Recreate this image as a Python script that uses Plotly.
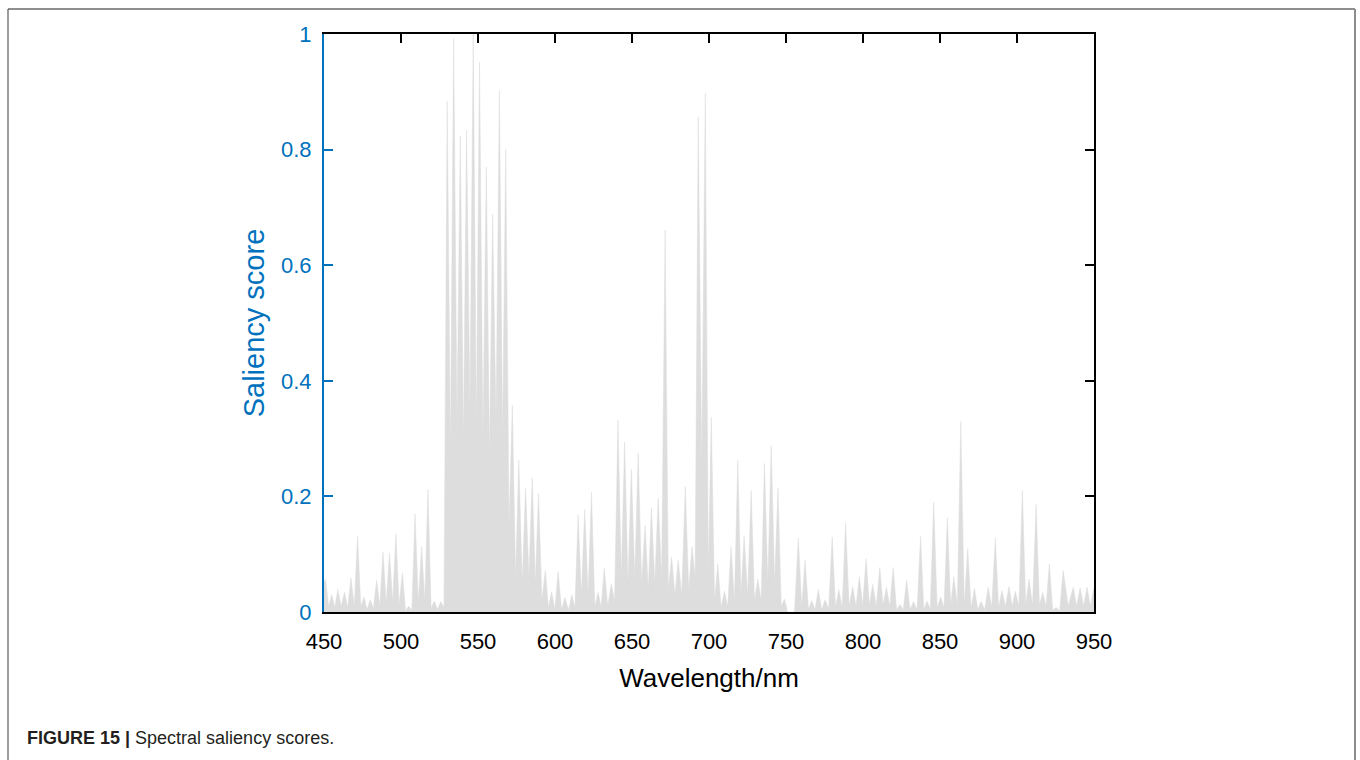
import plotly.graph_objects as go

# Peak wavelength (nm), peak saliency and the valley level that follows each peak
peak_nm = [
    451.0, 455.0, 459.0, 463.3, 467.5, 471.8, 476.0, 480.0, 484.2, 488.3,
    492.5, 496.7, 500.9, 505.0, 509.1, 513.4, 517.5, 521.6, 525.8, 530.0,
    534.2, 538.5, 542.6, 546.9, 551.0, 555.4, 559.5, 563.9, 568.0, 572.3,
    576.5, 580.9, 585.2, 589.3, 593.7, 597.8, 602.0, 606.5, 610.9, 615.0,
    619.3, 623.7, 628.0, 632.0, 636.5, 640.9, 645.2, 649.6, 654.0, 658.5,
    662.6, 667.0, 671.5, 675.7, 680.0, 684.6, 689.0, 693.0, 697.6, 701.5,
    705.7, 710.0, 714.3, 718.7, 722.8, 727.4, 731.7, 736.0, 740.4, 744.8,
    749.0, 753.0, 758.0, 762.4, 766.7, 771.0, 775.4, 780.0, 784.3, 788.7,
    793.3, 797.6, 802.0, 806.3, 810.9, 815.2, 819.6, 824.0, 828.3, 832.8,
    837.4, 841.5, 845.9, 850.4, 854.8, 859.0, 863.5, 868.0, 872.4, 876.7,
    881.3, 885.9, 890.2, 894.8, 898.9, 903.5, 907.8, 912.4, 916.7, 921.0,
    925.4, 930.0, 936.5, 941.0, 945.5, 949.8,
]
peak_score = [
    0.057, 0.030, 0.039, 0.034, 0.059, 0.131, 0.026, 0.021, 0.055, 0.104,
    0.102, 0.135, 0.068, 0.010, 0.170, 0.113, 0.212, 0.019, 0.018, 0.884,
    0.992, 0.823, 0.834, 1.000, 0.951, 0.770, 0.688, 0.903, 0.801, 0.358,
    0.263, 0.215, 0.232, 0.205, 0.072, 0.035, 0.070, 0.025, 0.030, 0.168,
    0.177, 0.207, 0.034, 0.076, 0.049, 0.332, 0.294, 0.247, 0.275, 0.150,
    0.180, 0.197, 0.661, 0.095, 0.090, 0.217, 0.113, 0.857, 0.898, 0.337,
    0.083, 0.036, 0.113, 0.262, 0.131, 0.210, 0.057, 0.257, 0.288, 0.215,
    0.022, 0.000, 0.128, 0.090, 0.020, 0.039, 0.021, 0.130, 0.039, 0.154,
    0.044, 0.061, 0.092, 0.048, 0.077, 0.043, 0.077, 0.013, 0.055, 0.018,
    0.131, 0.019, 0.190, 0.026, 0.163, 0.061, 0.330, 0.110, 0.041, 0.018,
    0.043, 0.128, 0.037, 0.044, 0.036, 0.210, 0.057, 0.186, 0.034, 0.083,
    0.008, 0.072, 0.043, 0.042, 0.043, 0.040,
]
valley_score = [
    0.010, 0.008, 0.010, 0.008, 0.010, 0.010, 0.004, 0.006, 0.010, 0.015,
    0.018, 0.012, 0.002, 0.003, 0.018, 0.020, 0.006, 0.004, 0.008, 0.280,
    0.330, 0.300, 0.350, 0.320, 0.300, 0.270, 0.330, 0.300, 0.150, 0.060,
    0.050, 0.060, 0.050, 0.020, 0.008, 0.004, 0.004, 0.003, 0.008, 0.030,
    0.030, 0.010, 0.008, 0.010, 0.020, 0.060, 0.050, 0.060, 0.050, 0.040,
    0.050, 0.060, 0.040, 0.030, 0.030, 0.040, 0.060, 0.250, 0.070, 0.020,
    0.008, 0.010, 0.020, 0.030, 0.030, 0.020, 0.020, 0.050, 0.050, 0.010,
    0.000, 0.000, 0.010, 0.005, 0.004, 0.004, 0.005, 0.008, 0.008, 0.010,
    0.010, 0.012, 0.012, 0.010, 0.012, 0.010, 0.004, 0.004, 0.004, 0.004,
    0.004, 0.005, 0.008, 0.008, 0.012, 0.012, 0.012, 0.008, 0.004, 0.004,
    0.008, 0.008, 0.010, 0.010, 0.010, 0.012, 0.012, 0.012, 0.010, 0.003,
    0.002, 0.010, 0.010, 0.010, 0.010, 0.030,
]
start_score = 0.050

x_ticks = [450, 500, 550, 600, 650, 700, 750, 800, 850, 900, 950]
y_ticks = [0, 0.2, 0.4, 0.6, 0.8, 1.0]
y_ticktext = ["0", "0.2", "0.4", "0.6", "0.8", "1"]

BLUE = "rgb(0,114,189)"
FILL = "rgb(221,221,221)"
FONT = "Liberation Sans, Arial, Helvetica, sans-serif"

# Outline: each peak joined to the valley halfway to the next peak
xs, ys = [450.0], [start_score]
for i, (p, v, f) in enumerate(zip(peak_nm, peak_score, valley_score)):
    xs.append(p)
    ys.append(v)
    nxt = peak_nm[i + 1] if i + 1 < len(peak_nm) else 950.0
    xs.append((p + nxt) / 2.0)
    ys.append(f)
xs.append(950.0)
ys.append(valley_score[-1])

fig = go.Figure()
fig.add_trace(go.Scatter(
    x=xs, y=ys, mode="lines", fill="tozeroy",
    line=dict(color=FILL, width=0.5), fillcolor=FILL,
    hoverinfo="skip",
))
# carrier for the top and right frame axes
fig.add_trace(go.Scatter(x=[450], y=[0], xaxis="x2", yaxis="y2",
                         mode="markers", marker=dict(opacity=0), hoverinfo="skip"))

fig.update_layout(
    width=1360, height=760,
    margin=dict(l=324, r=266, t=34, b=148),
    plot_bgcolor="white", paper_bgcolor="white",
    showlegend=False,
    font=dict(family=FONT),
    xaxis=dict(
        range=[450, 950], tickvals=x_ticks, ticks="",
        showline=True, linecolor="black", linewidth=2,
        showgrid=False, zeroline=False,
        tickfont=dict(size=22, color="black"), ticklabelstandoff=9,
        title=dict(text="Wavelength/nm", font=dict(size=26, color="black"), standoff=15),
    ),
    xaxis2=dict(
        range=[450, 950], overlaying="x", side="top", tickvals=x_ticks,
        ticks="inside", ticklen=9, tickwidth=2, tickcolor="black",
        showticklabels=False, showline=True, linecolor="black", linewidth=2,
        showgrid=False, zeroline=False,
    ),
    yaxis=dict(
        range=[0, 1], tickvals=y_ticks, ticktext=y_ticktext,
        ticks="inside", ticklen=9, tickwidth=2, tickcolor=BLUE,
        showline=True, linecolor=BLUE, linewidth=2,
        showgrid=False, zeroline=False,
        tickfont=dict(size=22, color=BLUE), ticklabelstandoff=6,
        title=dict(text="Saliency score", font=dict(size=29, color=BLUE), standoff=8),
    ),
    yaxis2=dict(
        range=[0, 1], overlaying="y", side="right", tickvals=y_ticks,
        ticks="inside", ticklen=9, tickwidth=2, tickcolor="black",
        showticklabels=False, showline=True, linecolor="black", linewidth=2,
        showgrid=False, zeroline=False,
    ),
)

# page frame around the figure panel
def px_x(px):
    return (px - 324) / 770.0

def px_y(py):
    return (612 - py) / 578.0

fig.add_shape(type="line", xref="paper", yref="paper",
              x0=px_x(8), x1=px_x(1355), y0=px_y(9), y1=px_y(9),
              line=dict(color="rgb(30,30,30)", width=1))
fig.add_shape(type="line", xref="paper", yref="paper",
              x0=px_x(8), x1=px_x(8), y0=px_y(9), y1=px_y(760),
              line=dict(color="rgb(60,60,60)", width=1))
fig.add_shape(type="line", xref="paper", yref="paper",
              x0=px_x(1355), x1=px_x(1355), y0=px_y(9), y1=px_y(760),
              line=dict(color="rgb(140,140,140)", width=2))

fig.add_annotation(
    xref="paper", yref="paper", x=px_x(25), y=px_y(738),
    xanchor="left", yanchor="middle", showarrow=False,
    text="<b>FIGURE 15 |</b> Spectral saliency scores.",
    font=dict(size=18, color="rgb(35,31,32)", family=FONT),
)

fig.write_html("out.html")
